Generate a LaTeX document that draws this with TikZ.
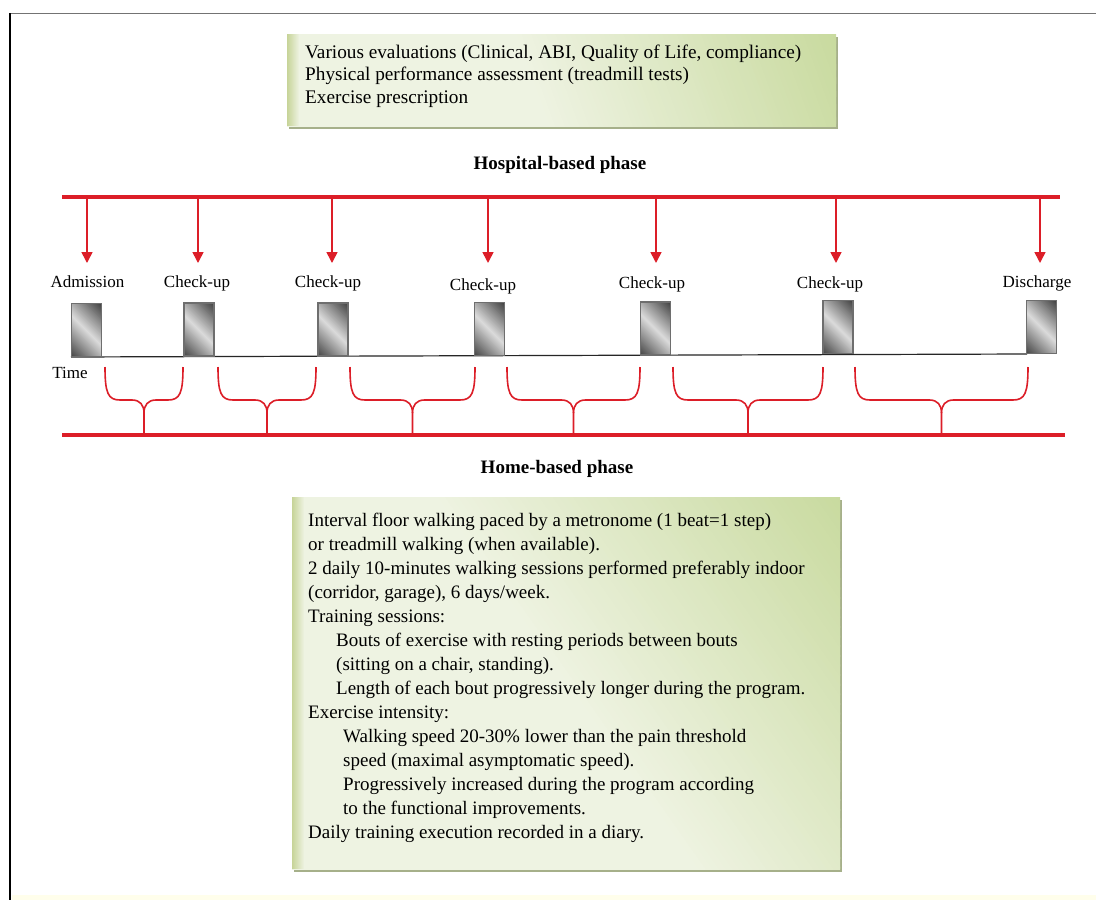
\documentclass[tikz,border=0pt]{standalone}
\usepackage{fontspec}
\setmainfont{Liberation Serif}
\usetikzlibrary{arrows.meta,shadows}
\definecolor{phasered}{HTML}{DC1E28}
\definecolor{leafedge}{HTML}{C4D797}
\definecolor{leafmid}{HTML}{F3F6EA}
\definecolor{leafshadow}{HTML}{9DA87E}
\definecolor{visitborder}{HTML}{6E6E6E}

% soft green fill: strips across a tilted axis plus a darker left edge
\newcommand\leafshade[4]{% #1 width, #2 height, #3 axis angle, #4 where the green starts
  \pgfmathsetmacro\lsU{#1*cos(#3)+#2*sin(#3)}
  \pgfmathsetmacro\lsL{#1+#2}
  \foreach \k in {0,...,120}{
    \pgfmathsetmacro\lsu{\k/120*\lsU}
    \pgfmathsetmacro\lsf{10+80*max(0,(\k/120-#4)/(1-#4))}
    \draw[line width=6.5pt, leafedge!\lsf!leafmid]
      ([shift={({\lsu*cos(#3)-\lsL*sin(#3)},{-\lsu*sin(#3)-\lsL*cos(#3)})}]path picture bounding box.south west)
      -- ++({2*\lsL*sin(#3)},{2*\lsL*cos(#3)});
  }
  \foreach \k in {0,...,12}{
    \draw[line width=1.2pt, leafedge!85!olive, opacity={0.75*(1-\k/12)}]
      ([xshift=\k pt]path picture bounding box.north west)
      -- ([xshift=\k pt]path picture bounding box.south west);
  }
}

\tikzset{
  greenbox/.style={rectangle, draw=none, fill=leafmid, inner sep=0pt, anchor=north west,
    drop shadow={shadow xshift=2pt, shadow yshift=-3pt, fill=leafshadow, opacity=0.9}},
  boxtext/.style={anchor=north west, align=left, inner sep=0pt},
  phaseline/.style={draw=phasered, line width=4pt},
  phasetitle/.style={font=\bfseries\fontsize{19}{22}\selectfont},
  visitarrow/.style={draw=phasered, line width=1.6pt, -{Triangle[length=11pt,width=11pt]}},
  visitbox/.style={rectangle, draw=visitborder, line width=1.1pt, minimum width=30pt,
    minimum height=53pt, inner sep=0pt, fill=black!40,
    path picture={
      \foreach \k in {0,...,60}{
        \pgfmathsetmacro\vu{\k/60*83}
        \pgfmathsetmacro\vg{14+60*abs(2*\k/60-1)}
        \draw[line width=1.7pt, black!\vg]
          ([shift={(\vu-60,-60)}]path picture bounding box.south west) -- ++(120,120);
      }
    }},
  visitlabel/.style={font=\fontsize{17}{20}\selectfont, inner sep=0pt},
  bracket/.style={draw=phasered, line width=1.6pt},
  timeline/.style={draw=black!85, line width=1.2pt}
}
\begin{document}
\begin{tikzpicture}[x=1pt,y=-1pt]
\useasboundingbox (0,0) rectangle (1096,900);

% frame
\fill[white] (0,0) rectangle (1096,900);
\fill[yellow!8] (12,895) rectangle (1096,900);
\draw[black!55, line width=1pt] (10,13) -- (1096,13);
\draw[black, line width=2pt] (10,13) -- (10,900);

% evaluation box
\node[greenbox, minimum width=549pt, minimum height=92pt,
      path picture={\leafshade{549}{92}{20}{0.45}}] (evalbox) at (287,34) {};
\node[boxtext, font=\fontsize{19.25}{22.5}\selectfont] (evaltext) at (305,44.5)
  {Various evaluations (Clinical, ABI, Quality of Life, compliance)\\
   Physical performance assessment (treadmill tests)\\
   Exercise prescription};

\node[phasetitle] (hosptitle) at (560,165) {Hospital-based phase};

% hospital phase line and arrows
\coordinate (hs) at (62,197);
\coordinate (he) at (1060,197);
\draw[phaseline] (hs) -- (he);

% visit boxes on the time axis
\coordinate (ts) at (71,357);
\coordinate (te) at (1027,354);
\draw[timeline] (ts) -- (te);
\node[visitbox] (b1) at (86.5,330) {};
\node[visitbox] (b2) at (199,329.5) {};
\node[visitbox] (b3) at (333,329.5) {};
\node[visitbox] (b4) at (489.5,329) {};
\node[visitbox] (b5) at (655.5,328.5) {};
\node[visitbox] (b6) at (838,327) {};
\node[visitbox] (b7) at (1041.5,327) {};

\node[visitlabel] (l1) at (87.5,282) {Admission};
\node[visitlabel] (l2) at (197,283) {Check-up};
\node[visitlabel] (l3) at (328,283) {Check-up};
\node[visitlabel] (l4) at (483,286) {Check-up};
\node[visitlabel] (l5) at (652,284) {Check-up};
\node[visitlabel] (l6) at (830,284) {Check-up};
\node[visitlabel] (l7) at (1037,283) {Discharge};
\node[visitlabel] (timelabel) at (70,373) {Time};

\foreach \i/\x in {1/87,2/198,3/332,4/488,5/656,6/836,7/1040}{
  \coordinate (s\i) at (\x,197);
  \coordinate (e\i) at (\x,263);
  \draw[visitarrow] (s\i) -- (e\i);
}

% home phase line and brackets
\coordinate (ms) at (62,435);
\coordinate (me) at (1065,435);
\draw[phaseline] (ms) -- (me);
\foreach \a/\b in {105/183,218/316,350/475,507/640,673/823,855/1028}{
  \pgfmathsetmacro\m{(\a+\b)/2}
  \draw[bracket] (\a,367) .. controls (\a,393) and (\a+3,400) .. (\a+15,400)
     -- (\m-12,400) .. controls (\m-4,400) and (\m,405) .. (\m,413) -- (\m,435);
  \draw[bracket] (\b,367) .. controls (\b,393) and (\b-3,400) .. (\b-15,400)
     -- (\m+12,400) .. controls (\m+4,400) and (\m,405) .. (\m,413);
}

\node[phasetitle] (hometitle) at (557,469) {Home-based phase};

% home programme box
\node[greenbox, minimum width=548pt, minimum height=372pt,
      path picture={\leafshade{548}{372}{35}{0.5}}] (homebox) at (292,497) {};
\node[boxtext, font=\fontsize{19}{24}\selectfont] (hometext) at (308,513)
  {Interval floor walking paced by a metronome (1 beat=1 step)\\
   or treadmill walking (when available).\\
   2 daily 10-minutes walking sessions performed preferably indoor\\
   (corridor, garage), 6 days/week.\\
   Training sessions:\\
   \hspace*{28pt}Bouts of exercise with resting periods between bouts\\
   \hspace*{28pt}(sitting on a chair, standing).\\
   \hspace*{28pt}Length of each bout progressively longer during the program.\\
   Exercise intensity:\\
   \hspace*{35pt}Walking speed 20-30\% lower than the pain threshold\\
   \hspace*{35pt}speed (maximal asymptomatic speed).\\
   \hspace*{35pt}Progressively increased during the program according\\
   \hspace*{35pt}to the functional improvements.\\
   Daily training execution recorded in a diary.};
\end{tikzpicture}
\end{document}
